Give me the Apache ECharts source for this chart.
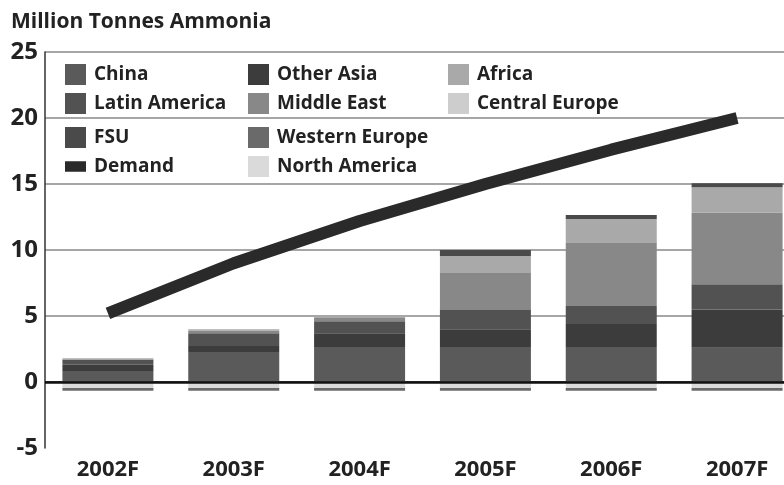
<!DOCTYPE html>
<html>
<head>
<meta charset="utf-8">
<script src="https://cdn.jsdelivr.net/npm/echarts@6/dist/echarts.min.js"></script>
<style>
	html, body {margin: 0; padding: 0; background: #fff;}
	#chart {width: 784px; height: 485px;}
</style>
</head>
<body>
<div id="chart"></div>
<script>
let years = ['2002F', '2003F', '2004F', '2005F', '2006F', '2007F'];
let yTicks = [-5, 0, 5, 10, 15, 20, 25];

// million tonnes
let china = [0.83, 2.27, 2.65, 2.65, 2.65, 2.6];
let otherAsia = [0.47, 0.45, 1.05, 1.35, 1.74, 2.9];
let latinAmerica = [0.4, 0.97, 0.9, 1.45, 1.37, 1.9];
let middleEast = [0, 0.2, 0.25, 2.8, 4.77, 5.45];
let africa = [0.1, 0.1, 0.2, 1.3, 1.82, 1.9];
let fsu = [0, 0, 0, 0.45, 0.3, 0.3];
let centralEurope = [0, 0, 0, 0, 0, 0];
let northAmerica = [-0.45, -0.45, -0.45, -0.45, -0.45, -0.45];
let westernEurope = [-0.22, -0.22, -0.22, -0.22, -0.22, -0.22];
let demand = [5.2, 9.0, 12.2, 15.0, 17.6, 20.0];

let font = '"Open Sans", "Noto Sans", sans-serif';
let demandIcon = 'path://M0,0 L0.01,0 L0,0.01 Z M0,5 L20,5 L20,15 L0,15 Z M20,20 L19.99,20 L20,19.99 Z';

let bar = (name, data, color) => ({
	name,
	type: 'bar',
	stack: 'total',
	barWidth: 91,
	data,
	itemStyle: {color},
	z: 2,
});

// one small legend block per pair of rows, so the columns line up
let legendCell = (left, top, names) => ({
	left,
	top,
	orient: 'vertical',
	itemWidth: 21,
	itemHeight: 21,
	itemGap: 8,
	icon: 'rect',
	data: names.map((name) => name === 'Demand' ? {name, icon: demandIcon} : {name}),
	textStyle: {fontFamily: font, fontWeight: 'bold', fontSize: 19, color: '#222', padding: [0, 0, 0, 3]},
});

let chart = echarts.init(document.getElementById('chart'));
chart.setOption({
	animation: false,
	title: {
		text: 'Million Tonnes Ammonia',
		left: 6,
		top: 7,
		textStyle: {fontFamily: font, fontWeight: 'bold', fontSize: 21, color: '#222'},
	},
	legend: [
		legendCell(60, 59, ['China', 'Latin America']),
		legendCell(243, 59, ['Other Asia', 'Middle East']),
		legendCell(443, 59, ['Africa', 'Central Europe']),
		legendCell(60, 122, ['FSU', 'Demand']),
		legendCell(243, 122, ['Western Europe', 'North America']),
	],
	grid: {left: 45, right: -16, top: 52, bottom: 37, outerBoundsMode: 'none'},
	xAxis: {
		type: 'category',
		data: years,
		axisLine: {show: false, onZero: false},
		axisTick: {show: false},
		axisLabel: {fontFamily: font, fontWeight: 'bold', fontSize: 22, color: '#222', margin: 11},
	},
	yAxis: {
		type: 'value',
		min: yTicks[0],
		max: yTicks[yTicks.length - 1],
		interval: 5,
		axisLine: {show: true, lineStyle: {color: '#333', width: 1.5}},
		axisTick: {show: false},
		axisLabel: {fontFamily: font, fontWeight: 'bold', fontSize: 24, color: '#222', margin: 7},
		splitLine: {lineStyle: {color: ['transparent', '#111', '#888', '#888', '#888', '#888', '#888'], width: 1.5}},
	},
	series: [
		bar('China', china, '#5a5a5a'),
		bar('Other Asia', otherAsia, '#3c3c3c'),
		bar('Latin America', latinAmerica, '#525252'),
		bar('Middle East', middleEast, '#888888'),
		bar('Africa', africa, '#a9a9a9'),
		bar('FSU', fsu, '#4a4a4a'),
		bar('Central Europe', centralEurope, '#cdcdcd'),
		bar('North America', northAmerica, '#dadada'),
		bar('Western Europe', westernEurope, '#6a6a6a'),
		{
			name: 'Demand',
			type: 'line',
			data: demand,
			symbol: 'none',
			lineStyle: {color: '#2a2a2a', width: 12, cap: 'butt'},
			itemStyle: {color: '#2a2a2a'},
			z: 4,
			markLine: {
				silent: true,
				symbol: 'none',
				label: {show: false},
				lineStyle: {color: '#111', width: 2.5, type: 'solid'},
				data: [{yAxis: 0}],
			},
		},
	],
});
</script>
</body>
</html>
